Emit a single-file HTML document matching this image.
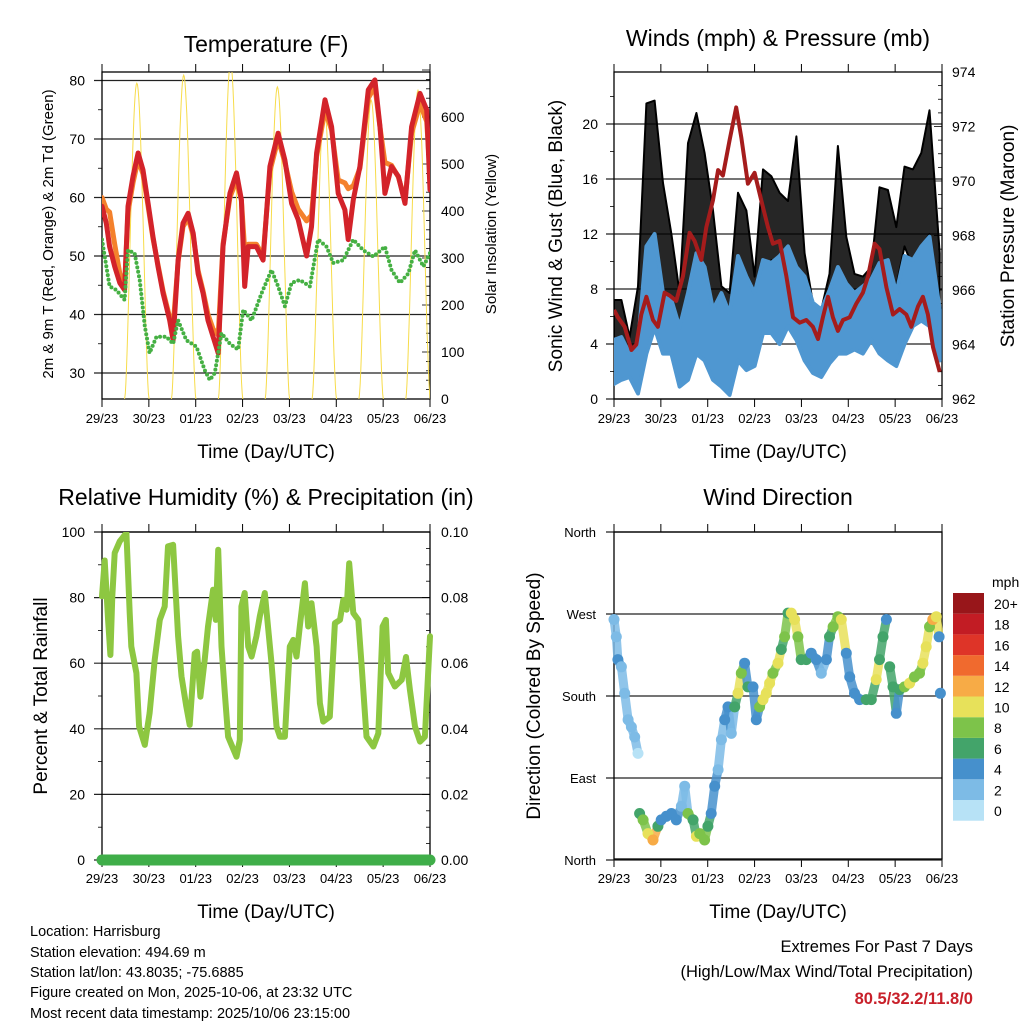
<!DOCTYPE html>
<html><head><meta charset="utf-8"><style>
html,body{margin:0;padding:0;background:#fff;}
svg{display:block;font-family:"Liberation Sans",Arial,sans-serif;}
</style></head><body>
<svg id="c" width="1024" height="1024" viewBox="0 0 1024 1024" xmlns="http://www.w3.org/2000/svg">
<defs>
<clipPath id="cpT"><rect x="102" y="72" width="328" height="327"/></clipPath>
<clipPath id="cpW"><rect x="614" y="72" width="328" height="327"/></clipPath>
<clipPath id="cpR"><rect x="96" y="532" width="340" height="336"/></clipPath>
<clipPath id="cpD"><rect x="608" y="526" width="340" height="340"/></clipPath>
</defs>
<g id="layer"></g>
<text x="266" y="52" font-size="23" text-anchor="middle">Temperature (F)</text>
<text x="778" y="46" font-size="23" text-anchor="middle">Winds (mph) &amp; Pressure (mb)</text>
<text x="266" y="505" font-size="23" text-anchor="middle">Relative Humidity (%) &amp; Precipitation (in)</text>
<text x="778" y="505" font-size="23" text-anchor="middle">Wind Direction</text>
<text x="266" y="458" font-size="19" text-anchor="middle">Time (Day/UTC)</text>
<text x="778" y="458" font-size="19" text-anchor="middle">Time (Day/UTC)</text>
<text x="266" y="918" font-size="19" text-anchor="middle">Time (Day/UTC)</text>
<text x="778" y="918" font-size="19" text-anchor="middle">Time (Day/UTC)</text>
<text transform="translate(53,234) rotate(-90)" font-size="15" text-anchor="middle">2m &amp; 9m T (Red, Orange) &amp; 2m Td (Green)</text>
<text transform="translate(496,234) rotate(-90)" font-size="15" text-anchor="middle">Solar Insolation (Yellow)</text>
<text transform="translate(562,236) rotate(-90)" font-size="19" text-anchor="middle">Sonic Wind &amp; Gust (Blue, Black)</text>
<text transform="translate(1014,236) rotate(-90)" font-size="19" text-anchor="middle">Station Pressure (Maroon)</text>
<text transform="translate(47,696) rotate(-90)" font-size="19" text-anchor="middle">Percent &amp; Total Rainfall</text>
<text transform="translate(540,696) rotate(-90)" font-size="19" text-anchor="middle">Direction (Colored By Speed)</text>
<g font-size="14.5">
<text x="30" y="936">Location: Harrisburg</text>
<text x="30" y="957">Station elevation: 494.69 m</text>
<text x="30" y="977">Station lat/lon: 43.8035; -75.6885</text>
<text x="30" y="997">Figure created on Mon, 2025-10-06, at 23:32 UTC</text>
<text x="30" y="1018">Most recent data timestamp: 2025/10/06 23:15:00</text>
</g>
<g font-size="16.5" text-anchor="end">
<text x="973" y="952">Extremes For Past 7 Days</text>
<text x="973" y="977">(High/Low/Max Wind/Total Precipitation)</text>
<text x="973" y="1004" fill="#c8202a" font-weight="bold">80.5/32.2/11.8/0</text>
</g>
</svg>
<script>
// ---------- data ----------
const dayLabels=["29/23","30/23","01/23","02/23","03/23","04/23","05/23","06/23"];
const tempHours=[0,2.2,3.9,6.5,9.1,11.6,13.3,15.9,18.5,21.0,23.6,26.1,28.7,31.3,34.7,36.4,39.0,41.5,44.1,46.7,49.2,51.8,54.3,56.9,59.5,62.0,65.5,68.9,71.4,73.1,74.9,79.1,82.5,86.0,90.2,93.7,97.1,100.5,104.8,107.3,109.9,114.2,117.6,121.0,124.4,126.1,128.7,132.1,136.4,139.8,142.4,144.9,148.3,151.8,155.2,158.6,162.9,166.3,168.0];
const temp2m=[58.5,55.6,51.6,48.2,45.4,44.2,58.5,63.6,67.6,64.7,59.0,53.3,48.2,43.6,39.0,35.6,49.3,55.6,57.3,53.9,47.0,43.6,39.0,36.2,33.4,51.6,60.7,64.2,59.6,44.8,51.6,51.6,49.3,65.3,71.0,66.4,59.0,56.2,50.0,55.0,67.6,76.7,72.1,60.7,57.9,52.8,59.6,65.3,78.4,80.1,72.1,60.7,65.3,63.6,59.0,72.1,77.8,75.0,61.3];
const temp9m=[60.0,58.0,57.5,52.0,47.0,45.0,57.5,62.5,66.5,64.0,58.5,53.0,48.5,44.0,39.5,38.0,49.0,55.0,56.5,53.5,47.5,44.0,40.0,37.5,36.5,52.0,60.0,63.0,59.5,51.0,52.0,52.0,50.0,64.5,70.0,66.0,61.0,58.0,56.0,57.0,67.0,75.0,71.5,63.0,62.5,61.5,62.0,65.0,77.0,79.0,72.0,66.0,65.5,63.5,59.5,71.0,76.0,73.0,64.0];
const dewHours=[0,3.9,7.3,11.6,13.3,16.7,19.3,21.9,24.4,27.9,33.0,36.4,39.0,43.2,48.4,52.6,55.2,57.8,61.2,65.5,69.7,72.3,76.6,81.7,86.8,90.2,93.7,97.1,101.3,106.5,110.7,115.0,118.4,123.6,128.7,133.8,139.0,144.9,148.3,152.6,156.9,160.3,164.6,168.0];
const dewPoint=[52.8,44.8,44.2,42.5,51,50.5,45.9,38,33.4,36.2,36.2,35,39,35.6,34.5,30.5,28.8,30,36.8,35,34,40.8,39,43.6,47.6,44.8,41.4,45.4,45.9,44.8,52.8,51.6,48.8,49.3,52.8,51,49.9,51.6,47.6,45.4,47,51,48.2,50.5];
const solarPeaks=[672,689,715,664,622,636,657];
const windHours=[0,3.8,8.0,12.3,16.6,20.8,25.1,29.4,33.6,37.9,42.2,46.4,50.7,55.0,59.2,63.5,67.8,72.0,76.3,80.6,84.8,89.1,93.4,97.6,101.9,106.2,110.4,114.7,119.0,123.2,127.5,131.8,136.0,140.3,144.6,148.8,153.1,157.4,161.6,166.8];
const windHigh=[4.3,4.5,3.3,4.0,11.1,12.0,7.7,7.2,5.2,7.7,10.6,9.6,6.5,7.7,6.2,10.4,8.9,7.7,10.1,9.9,10.4,11.1,9.6,8.9,7.0,6.5,7.9,9.6,8.4,7.7,8.2,8.7,9.9,10.1,7.7,10.4,10.1,11.1,11.8,6.5];
const windLow=[1.1,1.4,1.6,0.4,3.3,5.2,3.3,3.3,0.9,1.4,3.3,2.8,1.4,0.9,0.3,2.8,2.1,2.4,4.8,4.8,4.0,5.3,4.3,2.8,1.9,1.6,2.6,3.3,3.3,3.6,3.3,4.3,3.3,2.8,2.4,4.0,5.3,5.7,5.3,2.8];
const gustHigh=[7.2,7.2,4.5,8.2,21.5,21.7,15.7,12.0,7.7,18.6,20.8,17.9,13.7,8.2,7.7,15.0,13.7,8.9,16.7,16.2,15.0,14.4,19.1,10.6,7.0,6.5,9.1,18.4,11.8,9.1,8.9,9.6,15.4,15.2,12.5,16.9,16.7,17.9,21.0,10.6];
const gustLow=[2.8,3.3,2.8,3.8,7.7,8.9,7.7,7.2,3.8,6.2,9.1,7.7,6.2,2.8,2.8,8.2,7.7,6.2,8.9,10.1,9.6,9.6,8.9,6.2,3.8,3.3,4.8,7.7,5.3,5.3,6.2,5.7,8.9,8.9,8.2,11.1,9.6,11.1,12.0,3.8];
const presHours=[0,2.0,5.5,8.9,11.4,14.0,16.6,20.0,22.5,25.9,28.5,31.9,35.3,38.7,41.3,44.7,47.3,50.7,53.3,55.8,59.2,62.6,65.2,68.6,72.0,75.4,78.9,81.4,84.8,88.3,91.7,95.1,98.5,101.9,104.5,107.0,109.6,112.1,114.7,117.3,120.7,124.1,127.5,130.1,133.5,136.0,139.5,142.9,146.3,149.7,152.3,155.7,158.2,160.8,163.4,166.8];
const pressure=[965.27,965.0,964.65,963.8,964.0,965.1,965.75,964.9,964.65,965.9,965.8,965.6,966.5,968.1,967.8,967.1,968.3,969.3,970.4,970.2,971.5,972.7,971.6,969.9,970.3,969.3,968.3,967.7,967.8,966.5,965.0,964.8,964.9,964.65,964.2,965.0,965.75,965.0,964.5,964.9,965.0,965.5,965.9,966.5,967.7,967.5,966.1,965.1,965.3,965.1,964.65,965.4,965.75,965.1,963.9,963.0];
const rhHours=[0,1.4,3.1,4.3,5.3,6.5,9.1,12.5,14.2,15.0,17.6,19.0,21.9,24.4,27.0,29.6,32.1,33.8,36.4,39.0,40.7,43.2,44.9,47.5,48.7,50.4,52.6,54.3,56.9,58.3,59.5,61.2,62.9,64.6,68.9,70.6,71.4,73.1,74.9,76.6,79.1,80.8,83.4,86.8,89.4,91.1,93.7,96.2,98.0,99.6,101.3,103.9,105.6,107.3,109.9,111.6,113.3,116.7,119.3,121.9,123.6,125.3,126.6,128.7,131.3,133.0,135.5,139.0,141.5,143.7,145.4,146.6,150.0,153.5,155.7,157.7,160.3,162.9,165.4,168.0];
const rhValues=[80.4,91.3,73.2,62.5,80.4,93.6,97.2,99.7,75.3,65.1,57.0,40.7,35.1,44.8,61.0,73.2,77.3,95.6,96.1,68.2,56.0,46.8,41.2,63.0,63.5,49.8,61.0,71.2,82.4,73.2,94.6,65.1,50.9,37.6,31.5,36.6,77.3,81.4,65.1,62.0,68.2,74.3,81.4,60.0,40.7,37.6,37.6,65.1,67.1,62.0,71.2,84.4,71.2,78.3,65.1,47.8,42.2,43.7,72.2,73.2,79.3,76.3,90.5,75.3,73.2,59.0,37.6,34.6,38.6,71.2,73.2,57.0,52.9,54.9,61.9,51.9,40.7,36.1,37.6,68.2];
const precipHours=[0,168];
const precipValues=[0,0];
const dirHours=[0,1.2,2,3.8,5.5,7.2,8.9,10.6,12.3,13.1,14.9,17.4,20,22.5,24.2,26.8,29.4,31.9,34.5,36.2,37.9,40.5,42.2,43.9,46.4,48.1,49.8,51.6,53.3,55,56.7,58.4,60.1,61.8,63.5,65.2,66.9,68.6,71.2,72.9,74.6,76.3,78,79.7,81.4,84,85.7,87.4,89.1,90.8,92.5,94.2,95.9,98.5,101,103.6,106.2,108.8,110.4,112.2,114.7,116.4,119,120.7,123.2,125.8,129.2,131.8,134.3,136,137.8,139.5,141.2,142.9,144.6,146.3,148.8,151.4,153.9,156.5,158.2,159.9,161.6,163.3,165.1,166.5,167.2];
const dirDeg=[264,245,220,212,183,154,146,135,117,51,44,29,22,37,44,48,51,44,59,81,51,44,26,29,22,37,51,81,99,132,154,168,139,168,183,205,216,190,190,154,168,176,183,194,205,216,231,245,271,271,264,245,220,220,227,220,205,220,245,256,267,264,227,201,183,176,176,176,198,220,245,264,212,190,161,187,190,194,201,205,216,234,256,264,267,245,183];
const dirSpeed=[2,2,4,2,2,2,1.5,2,0.5,6,7,10,12,6,4,4,4,3,2,1,7,6,9,8,7,5,4,4,2,2,4,3,2,6,9,7,4,6,4,4,7,9,9,10,7,9,6,7,6,10,9,7,6,6,4,4,2,4,6,7,8,9,3,4,3,4,6,5,9,6,5,4,6,6,4,6,8,9,7,7,9,10,8,12,10,4,4];
const cbLabels=["0","2","4","6","8","10","12","14","16","18","20+"];
const cbColors=["#b7e2f6","#7dbbe6","#4690cc","#43a46a","#7dc34a","#e7e15a","#f7ab46","#f06a2e","#de3428","#c21c24","#98161a"];
const tempTicks=[30,40,50,60,70,80];
const solarTicks=[0,100,200,300,400,500,600];
const windTicks=[0,4,8,12,16,20];
const presTicks=[962,964,966,968,970,972,974];
const rhTicks=[0,20,40,60,80,100];
const prTicks=[0,0.02,0.04,0.06,0.08,0.10];
const dirTicks=[0,90,180,270,360];
const dirNames=["North","East","South","West","North"];

// ---------- scales ----------
const xT=h=>102+h/168*328, xW=h=>614+h/168*328;
const yT=v=>373-(v-30)*5.85, yS=s=>399-s*0.47;
const yW=v=>399-v*13.75, yP=p=>399-(p-962)*27.25;
const yR=v=>860-v*3.28, yPr=v=>860-v*3280;
const yD=d=>860-d*(328/360);
const NS="http://www.w3.org/2000/svg";
const root=document.getElementById('layer');
function mk(tag,attrs,parent){const e=document.createElementNS(NS,tag);for(const k in attrs)e.setAttribute(k,attrs[k]);(parent||root).appendChild(e);return e;}
function txt(x,y,s,anchor,size,parent){const t=mk('text',{x:x,y:y,'font-size':size||13,'text-anchor':anchor},parent);t.textContent=s;return t;}
function pts(xs,ys,fx,fy){return xs.map((h,i)=>fx(h).toFixed(1)+','+fy(ys[i]).toFixed(1)).join(' ');}

function panelFrame(x0,y0,name){
  const g=mk('g',{});
  
  
  for(let i=0;i<8;i++){
    const x=x0+i*328/7;
    mk('line',{x1:x,y1:y0+327,x2:x,y2:y0+335,stroke:'#000','stroke-width':1},g);
    mk('line',{x1:x,y1:y0,x2:x,y2:y0-8,stroke:'#000','stroke-width':1},g);
    const t=txt(x,y0+351,dayLabels[i],'middle',13,g);
    
    
  }
  return g;
}
function hgrid(g,x0,y){mk('line',{x1:x0-8,y1:y,x2:x0+328,y2:y,stroke:'#222','stroke-width':1.2},g);}
function leftMinor(g,x0,y){mk('line',{x1:x0-4,y1:y,x2:x0,y2:y,stroke:'#000','stroke-width':0.8},g);}
function rightTick(g,x1,y,len){mk('line',{x1:x1-len,y1:y,x2:x1,y2:y,stroke:'#000','stroke-width':0.8},g);}
function border(g,x0,y0){mk('rect',{x:x0,y:y0,width:328,height:327,fill:'none',stroke:'#000','stroke-width':1.3},g);}

// ===== Temperature panel =====
{
 const g=panelFrame(102,72,'temperature');
 for(let v=30;v<=80;v+=5) if(v%10) leftMinor(g,102,yT(v));
 tempTicks.forEach(v=>{hgrid(g,102,yT(v));txt(85,yT(v)+5,String(v),'end',14,g);});
 for(let s=0;s<=700;s+=20) rightTick(g,430,yS(s),s%100?4:8);
 solarTicks.forEach(s=>txt(441,yS(s)+5,String(s),'start',14,g));
 const d=mk('g',{'clip-path':'url(#cpT)'});
 solarPeaks.forEach((pk,i)=>{
   const rise=24*i+11.6,len=12.5,arr=[];
   for(let k=0;k<=40;k++){const t=rise+len*k/40;arr.push(xT(t).toFixed(1)+','+yS(pk*Math.pow(Math.sin(Math.PI*k/40),1.6)).toFixed(1));}
   const p=mk('polyline',{points:arr.join(' '),fill:'none',stroke:'#f7dc4a','stroke-width':1},d);
   
   
 });
 const o=mk('polyline',{points:pts(tempHours,temp9m,xT,yT),fill:'none',stroke:'#f4812c','stroke-width':5,'stroke-linejoin':'round','stroke-linecap':'round'},d);
 
 
 const r=mk('polyline',{points:pts(tempHours,temp2m,xT,yT),fill:'none',stroke:'#d3232a','stroke-width':5,'stroke-linejoin':'round','stroke-linecap':'round'},d);
 
 
 const gr=mk('polyline',{points:pts(dewHours,dewPoint,xT,yT),fill:'none',stroke:'#45b043','stroke-width':4,'stroke-dasharray':'0 4.5','stroke-linecap':'round'},d);
 
 
 border(g,102,72);
}
// ===== Wind panel =====
{
 const g=panelFrame(614,72,'winds');
 for(let v=2;v<=22;v+=4) leftMinor(g,614,yW(v));
 windTicks.forEach(v=>{hgrid(g,614,yW(v));txt(598,yW(v)+5,String(v),'end',14,g);});
 for(let p=962;p<=974;p+=0.5) rightTick(g,942,yP(p),p%2?4:8);
 presTicks.forEach(p=>txt(952,yP(p)+5,String(p),'start',14,g));
 const d=mk('g',{'clip-path':'url(#cpW)'});
 const band=(hi,lo,col,name,op,sw)=>{
   const up=windHours.map((h,i)=>xW(h).toFixed(1)+','+yW(hi[i]).toFixed(1));
   const dn=windHours.map((h,i)=>xW(h).toFixed(1)+','+yW(lo[i]).toFixed(1)).reverse();
   const p=mk('polygon',{points:up.concat(dn).join(' '),fill:col,'fill-opacity':op,stroke:col,'stroke-width':sw,'stroke-linejoin':'round'},d);
   
   
 };
 band(gustHigh,gustLow,'#000','gust-band',0.85,2);
 band(windHigh,windLow,'#4f97d1','wind-band',1,4);
 const pl=mk('polyline',{points:pts(presHours,pressure,xW,yP),fill:'none',stroke:'#a51c1c','stroke-width':4,'stroke-linejoin':'round'},d);
 
 
 border(g,614,72);
}
// ===== RH panel =====
{
 const g=panelFrame(102,532,'humidity');
 for(let v=10;v<=90;v+=20) leftMinor(g,102,yR(v));
 rhTicks.forEach(v=>{hgrid(g,102,yR(v));txt(85,yR(v)+5,String(v),'end',14,g);});
 for(let k=0;k<=20;k++) rightTick(g,430,yPr(k*0.005),k%4?4:8);
 prTicks.forEach(v=>txt(441,yPr(v)+5,v.toFixed(2),'start',14,g));
 const d=mk('g',{'clip-path':'url(#cpR)'});
 const rl=mk('polyline',{points:pts(rhHours,rhValues,xT,yR),fill:'none',stroke:'#8dc741','stroke-width':6,'stroke-linejoin':'round','stroke-linecap':'round'},d);
 
 
 const pr=mk('polyline',{points:pts(precipHours,precipValues,xT,yPr),fill:'none',stroke:'#3fae49','stroke-width':11,'stroke-linecap':'round'},d);
 
 
 border(g,102,532);
}
// ===== Direction panel =====
{
 const g=panelFrame(614,532,'direction');
 dirTicks.forEach((v,i)=>{hgrid(g,614,yD(v));txt(596,yD(v)+5,dirNames[i],'end',13,g);});
 const d=mk('g',{'clip-path':'url(#cpD)'});
 const col=i=>cbColors[Math.min(10,Math.round(dirSpeed[i]/2))];
 for(let i=0;i<dirHours.length-1;i++){
   if(Math.abs(dirDeg[i+1]-dirDeg[i])>40) continue;
   const s=mk('line',{x1:xW(dirHours[i]).toFixed(1),y1:yD(dirDeg[i]).toFixed(1),x2:xW(dirHours[i+1]).toFixed(1),y2:yD(dirDeg[i+1]).toFixed(1),stroke:col(i),'stroke-width':9,'stroke-linecap':'round','stroke-opacity':0.85},d);
   
   
 }
 dirHours.forEach((h,i)=>{
   const c=mk('circle',{cx:xW(h).toFixed(1),cy:yD(dirDeg[i]).toFixed(1),r:5.5,fill:col(i)},d);
   
   
 });
 border(g,614,532);
 const cb=mk('g',{});
 
 
 txt(992,587,'mph','start',14,cb);
 cbColors.forEach((c,i)=>{
   const y=593+(10-i)*20.7;
   const r=mk('rect',{x:953,y:y,width:31,height:20.7,fill:c},cb);
   
   
   txt(994,y+16,cbLabels[i],'start',14,cb);
 });
}
</script>
</body></html>
